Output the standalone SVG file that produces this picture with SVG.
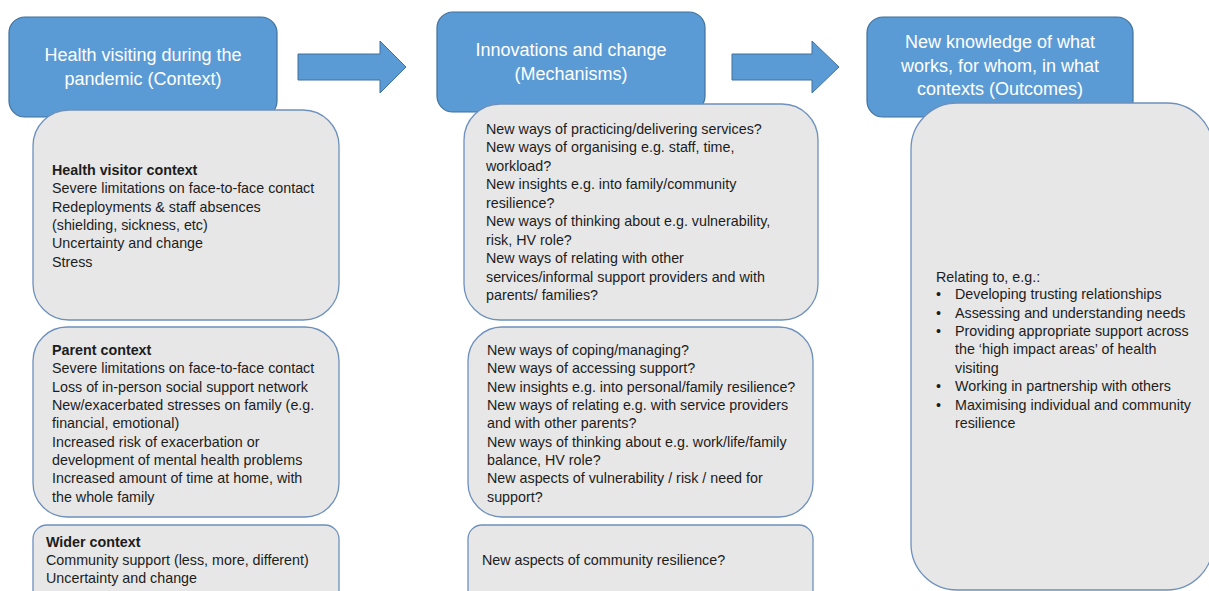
<svg xmlns="http://www.w3.org/2000/svg" width="1209" height="591" viewBox="0 0 1209 591">
<style>
.hdr{fill:#5b9bd5;stroke:#41719c;stroke-width:1.2}
.box{fill:#e7e7e7;stroke:#6d90bd;stroke-width:1.3}
.ht{font-family:"Liberation Sans",Arial,sans-serif;font-size:18px;fill:#ffffff;text-anchor:middle}
.bt{font-family:"Liberation Sans",Arial,sans-serif;font-size:14.3px;fill:#1c1c1c}
.b{font-weight:bold}
.arr{fill:#5b9bd5;stroke:#41719c;stroke-width:1}
</style>
<rect width="1209" height="591" fill="#ffffff"/>
<g id="connectors">
<polygon class="arr" points="298,54 380,54 380,41 406,67 380,93 380,80 298,80"/>
<polygon class="arr" points="732,54 812,54 812,41 839,67 812,93 812,80 732,80"/>
</g>
<g id="context-header">
<rect class="hdr" x="9" y="17" width="268" height="100" rx="16"/>
<text class="ht" x="143" y="61">Health visiting during the</text>
<text class="ht" x="143" y="85">pandemic (Context)</text>
</g>
<g id="mechanisms-header">
<rect class="hdr" x="437" y="12" width="268" height="100" rx="16"/>
<text class="ht" x="571" y="56">Innovations and change</text>
<text class="ht" x="571" y="80">(Mechanisms)</text>
</g>
<g id="outcomes-header">
<rect class="hdr" x="867" y="17" width="266" height="100" rx="16"/>
<text class="ht" x="1000" y="48">New knowledge of what</text>
<text class="ht" x="1000" y="72">works, for whom, in what</text>
<text class="ht" x="1000" y="95">contexts (Outcomes)</text>
</g>
<g id="health-visitor-context">
<rect class="box" x="33" y="110" width="306" height="210" rx="36"/>
<text class="bt b" x="52" y="175">Health visitor context</text>
<text class="bt" x="52" y="193">Severe limitations on face-to-face contact</text>
<text class="bt" x="52" y="212">Redeployments &amp; staff absences</text>
<text class="bt" x="52" y="230">(shielding, sickness, etc)</text>
<text class="bt" x="52" y="248">Uncertainty and change</text>
<text class="bt" x="52" y="267">Stress</text>
</g>
<g id="parent-context">
<rect class="box" x="33" y="327" width="306" height="190" rx="34"/>
<text class="bt b" x="52" y="355">Parent context</text>
<text class="bt" x="52" y="373">Severe limitations on face-to-face contact</text>
<text class="bt" x="52" y="392">Loss of in-person social support network</text>
<text class="bt" x="52" y="410">New/exacerbated stresses on family (e.g.</text>
<text class="bt" x="52" y="428">financial, emotional)</text>
<text class="bt" x="52" y="447">Increased risk of exacerbation or</text>
<text class="bt" x="52" y="465">development of mental health problems</text>
<text class="bt" x="52" y="483">Increased amount of time at home, with</text>
<text class="bt" x="52" y="502">the whole family</text>
</g>
<g id="wider-context">
<rect class="box" x="33" y="525" width="306" height="90" rx="14"/>
<text class="bt b" x="46" y="547">Wider context</text>
<text class="bt" x="46" y="565">Community support (less, more, different)</text>
<text class="bt" x="46" y="583">Uncertainty and change</text>
</g>
<g id="hv-mechanisms">
<rect class="box" x="464" y="104" width="354" height="216" rx="36"/>
<text class="bt" x="486" y="134">New ways of practicing/delivering services?</text>
<text class="bt" x="486" y="152">New ways of organising e.g. staff, time,</text>
<text class="bt" x="486" y="171">workload?</text>
<text class="bt" x="486" y="189">New insights e.g. into family/community</text>
<text class="bt" x="486" y="208">resilience?</text>
<text class="bt" x="486" y="226">New ways of thinking about e.g. vulnerability,</text>
<text class="bt" x="486" y="245">risk, HV role?</text>
<text class="bt" x="486" y="263">New ways of relating with other</text>
<text class="bt" x="486" y="282">services/informal support providers and with</text>
<text class="bt" x="486" y="300">parents/ families?</text>
</g>
<g id="parent-mechanisms">
<rect class="box" x="468" y="327" width="345" height="190" rx="34"/>
<text class="bt" x="487" y="355">New ways of coping/managing?</text>
<text class="bt" x="487" y="373">New ways of accessing support?</text>
<text class="bt" x="487" y="392">New insights e.g. into personal/family resilience?</text>
<text class="bt" x="487" y="410">New ways of relating e.g. with service providers</text>
<text class="bt" x="487" y="428">and with other parents?</text>
<text class="bt" x="487" y="447">New ways of thinking about e.g. work/life/family</text>
<text class="bt" x="487" y="465">balance, HV role?</text>
<text class="bt" x="487" y="483">New aspects of vulnerability / risk / need for</text>
<text class="bt" x="487" y="502">support?</text>
</g>
<g id="wider-mechanisms">
<rect class="box" x="468" y="525" width="345" height="90" rx="14"/>
<text class="bt" x="482" y="565">New aspects of community resilience?</text>
</g>
<g id="outcomes">
<rect class="box" x="911" y="103" width="302" height="487" rx="46"/>
<text class="bt" x="936" y="282">Relating to, e.g.:</text>
<g class="bt">
<text x="936" y="299">•</text><text x="955" y="299">Developing trusting relationships</text>
<text x="936" y="318">•</text><text x="955" y="318">Assessing and understanding needs</text>
<text x="936" y="336">•</text><text x="955" y="336">Providing appropriate support across</text>
<text x="955" y="354">the ‘high impact areas’ of health</text>
<text x="955" y="373">visiting</text>
<text x="936" y="391">•</text><text x="955" y="391">Working in partnership with others</text>
<text x="936" y="410">•</text><text x="955" y="410">Maximising individual and community</text>
<text x="955" y="428">resilience</text>
</g>
</g>
</svg>
